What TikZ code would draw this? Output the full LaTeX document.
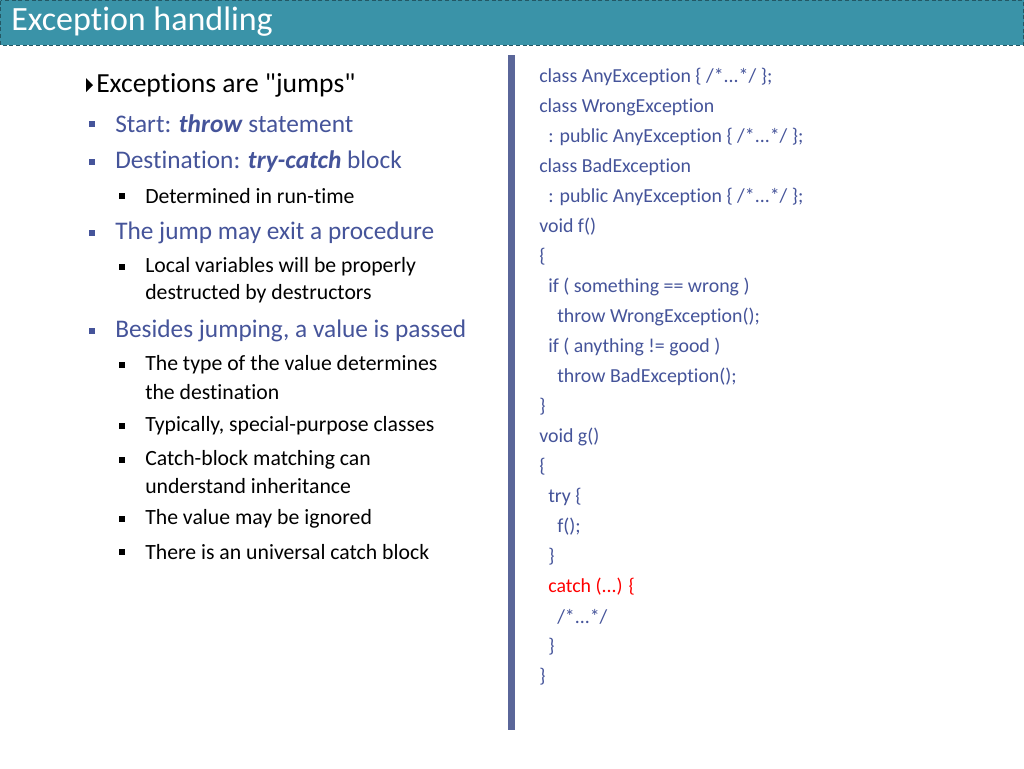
\documentclass[tikz,border=0pt]{standalone}
\usepackage{fontspec}
\setmainfont[Contextuals=NoAlternate,Ligatures={NoCommon,NoRequired}]{Carlito}
\begin{document}
\begin{tikzpicture}[x=0.75pt,y=-0.75pt,
  t/.style={anchor=west,inner sep=0pt},
  la/.style={t,font=\fontsize{20.7}{23}\selectfont,text=black},
  lb/.style={t,font=\fontsize{19}{22}\selectfont,text=txb},
  lc/.style={t,font=\fontsize{16.3}{19}\selectfont,text=black},
  cd/.style={t,font=\fontsize{14.9}{17}\selectfont,text=txb},
  sq/.style={fill=txb,minimum size=5pt,inner sep=0pt},
  sqs/.style={fill=black,minimum size=4.5pt,inner sep=0pt}]
\definecolor{hdr}{HTML}{3A93A8}
\definecolor{txb}{HTML}{45549A}
\definecolor{bar}{HTML}{5A6699}
\useasboundingbox (0,0) rectangle (1024,768);
\fill[white] (0,0) rectangle (1024,768);
\fill[hdr] (0,0) rectangle (1024,45);
\draw[hdr!60!black,densely dashed,line width=0.5pt] (0.5,0.5) rectangle (1023.5,45);
\node[t,font=\fontsize{25.5}{28}\selectfont,text=white] (title) at (11,22) {Exception handling};
\fill[bar] (508,55) rectangle (515,730);
% left
\fill[black] (86,78) -- (93,85) -- (86,92) -- cycle;
\node[la] (a1) at (96,85) {Exceptions are \textquotedbl jumps\textquotedbl};
\node[sq] (b1s) at (92,124) {}; \node[lb] (b1) at (115,124) {Start: \textbf{\textit{throw}} statement};
\node[sq] (b2s) at (92,162) {}; \node[lb] (b2) at (115,162) {Destination: \textbf{\textit{try-catch}} block};
\node[sqs] (c1s) at (122,196) {}; \node[lc] (c1) at (145,196) {Determined in run-time};
\node[sq] (b3s) at (92,233) {}; \node[lb] (b3) at (115,233) {The jump may exit a procedure};
\node[sqs] (c2s) at (122,267) {}; \node[lc] (c2) at (145,267) {Local variables will be properly};
\node[lc] (c2b) at (145,294) {destructed by destructors};
\node[sq] (b4s) at (92,331) {}; \node[lb] (b4) at (115,331) {Besides jumping, a value is passed};
\node[sqs] (c3s) at (122,365) {}; \node[lc] (c3) at (145,365) {The type of the value determines};
\node[lc] (c3b) at (145,392) {the destination};
\node[sqs] (c4s) at (122,426) {}; \node[lc] (c4) at (145,426) {Typically, special-purpose classes};
\node[sqs] (c5s) at (122,460) {}; \node[lc] (c5) at (145,460) {Catch-block matching can};
\node[lc] (c5b) at (145,486) {understand inheritance};
\node[sqs] (c6s) at (122,519) {}; \node[lc] (c6) at (145,519) {The value may be ignored};
\node[sqs] (c7s) at (122,552) {}; \node[lc] (c7) at (145,552) {There is an universal catch block};
% code
\node[cd] (k1) at (539,77) {class AnyException \{ /*...*/ \};};
\node[cd] (k2) at (539,107) {class WrongException};
\node[cd] (k3) at (548,137) {: public AnyException \{ /*...*/ \};};
\node[cd] (k4) at (539,167) {class BadException};
\node[cd] (k5) at (548,197) {: public AnyException \{ /*...*/ \};};
\node[cd] (k6) at (539,227) {void f()};
\node[cd] (k7) at (539,257) {\{};
\node[cd] (k8) at (548,287) {if ( something == wrong )};
\node[cd] (k9) at (557,317) {throw WrongException();};
\node[cd] (k10) at (548,347) {if ( anything != good )};
\node[cd] (k11) at (557,377) {throw BadException();};
\node[cd] (k12) at (539,407) {\}};
\node[cd] (k13) at (539,437) {void g()};
\node[cd] (k14) at (539,467) {\{};
\node[cd] (k15) at (548,497) {try \{};
\node[cd] (k16) at (557,527) {f();};
\node[cd] (k17) at (548,557) {\}};
\node[cd,text=red] (k18) at (548,587) {catch (...) \{};
\node[cd] (k19) at (557,617) {/*...*/};
\node[cd] (k20) at (548,647) {\}};
\node[cd] (k21) at (539,677) {\}};
\end{tikzpicture}
\end{document}
